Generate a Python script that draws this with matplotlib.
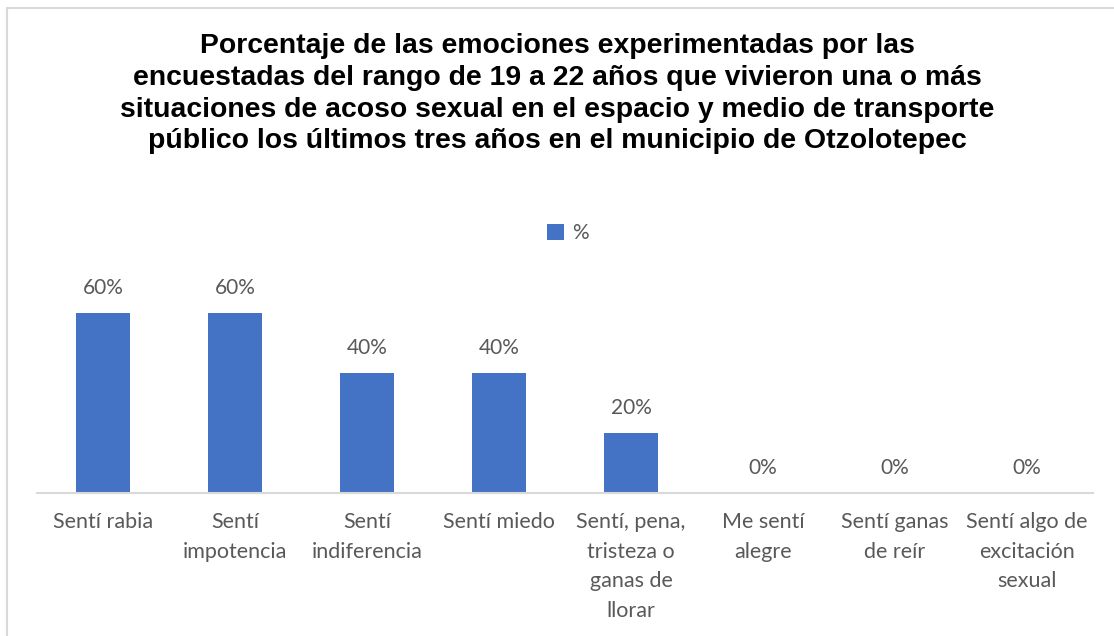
import numpy as np
import matplotlib.pyplot as plt
from matplotlib.patches import Rectangle

categorias = ["Sentí rabia", "Sentí\nimpotencia", "Sentí\nindiferencia", "Sentí miedo",
              "Sentí, pena,\ntristeza o\nganas de\nllorar", "Me sentí\nalegre",
              "Sentí ganas\nde reír", "Sentí algo de\nexcitación\nsexual"]
porcentajes = [0.60, 0.60, 0.40, 0.40, 0.20, 0.0, 0.0, 0.0]

titulo = ("Porcentaje de las emociones experimentadas por las\n"
          "encuestadas del rango de 19 a 22 años que vivieron una o más\n"
          "situaciones de acoso sexual en el espacio y medio de transporte\n"
          "público los últimos tres años en el municipio de Otzolotepec")

azul = "#4472c4"
gris = "#595959"
fuente = "Lato"

W, H = 1114, 636
fig = plt.figure(figsize=(W / 100, H / 100), dpi=100)

# marco del grafico
fig.patches.append(Rectangle((7 / W, -0.1), 1.2, 1 - 8 / H + 0.1, transform=fig.transFigure,
                             fill=False, edgecolor="#d9d9d9", linewidth=1.5))

ax = fig.add_axes([37 / W, 1 - 493 / H, 1056 / W, 210 / H])
x = np.arange(len(categorias))
barras = ax.bar(x, porcentajes, width=0.41, color=azul, label="%")
ax.set_xlim(-0.5, len(categorias) - 0.5)
ax.set_ylim(0, 0.70)

for xi, v in zip(x, porcentajes):
    ax.annotate(f"{v:.0%}", (xi, v), xytext=(0, 11), textcoords="offset points",
                ha="center", va="bottom", fontsize=15, color=gris, family=fuente)

ax.set_xticks(x)
ax.set_xticklabels(categorias, fontsize=15.5, color=gris, family=fuente, linespacing=1.59)
ax.tick_params(axis="x", length=0, pad=14)
ax.set_yticks([])
for lado in ["top", "right", "left"]:
    ax.spines[lado].set_visible(False)
ax.spines["bottom"].set_color("#d9d9d9")
ax.spines["bottom"].set_linewidth(1.5)

fig.text(557 / W, 1 - 33 / H, titulo, ha="center", va="top", fontsize=20.4,
         fontweight="bold", family="Liberation Sans", linespacing=1.29)

leg = fig.legend(handles=[barras], labels=["%"], loc="center", bbox_to_anchor=(568 / W, 1 - 233 / H),
                 frameon=False, handlelength=0.8, handleheight=0.8, handletextpad=0.4,
                 prop={"family": fuente, "size": 15})
for t in leg.get_texts():
    t.set_color(gris)

fig.savefig("out.png", dpi=100)
